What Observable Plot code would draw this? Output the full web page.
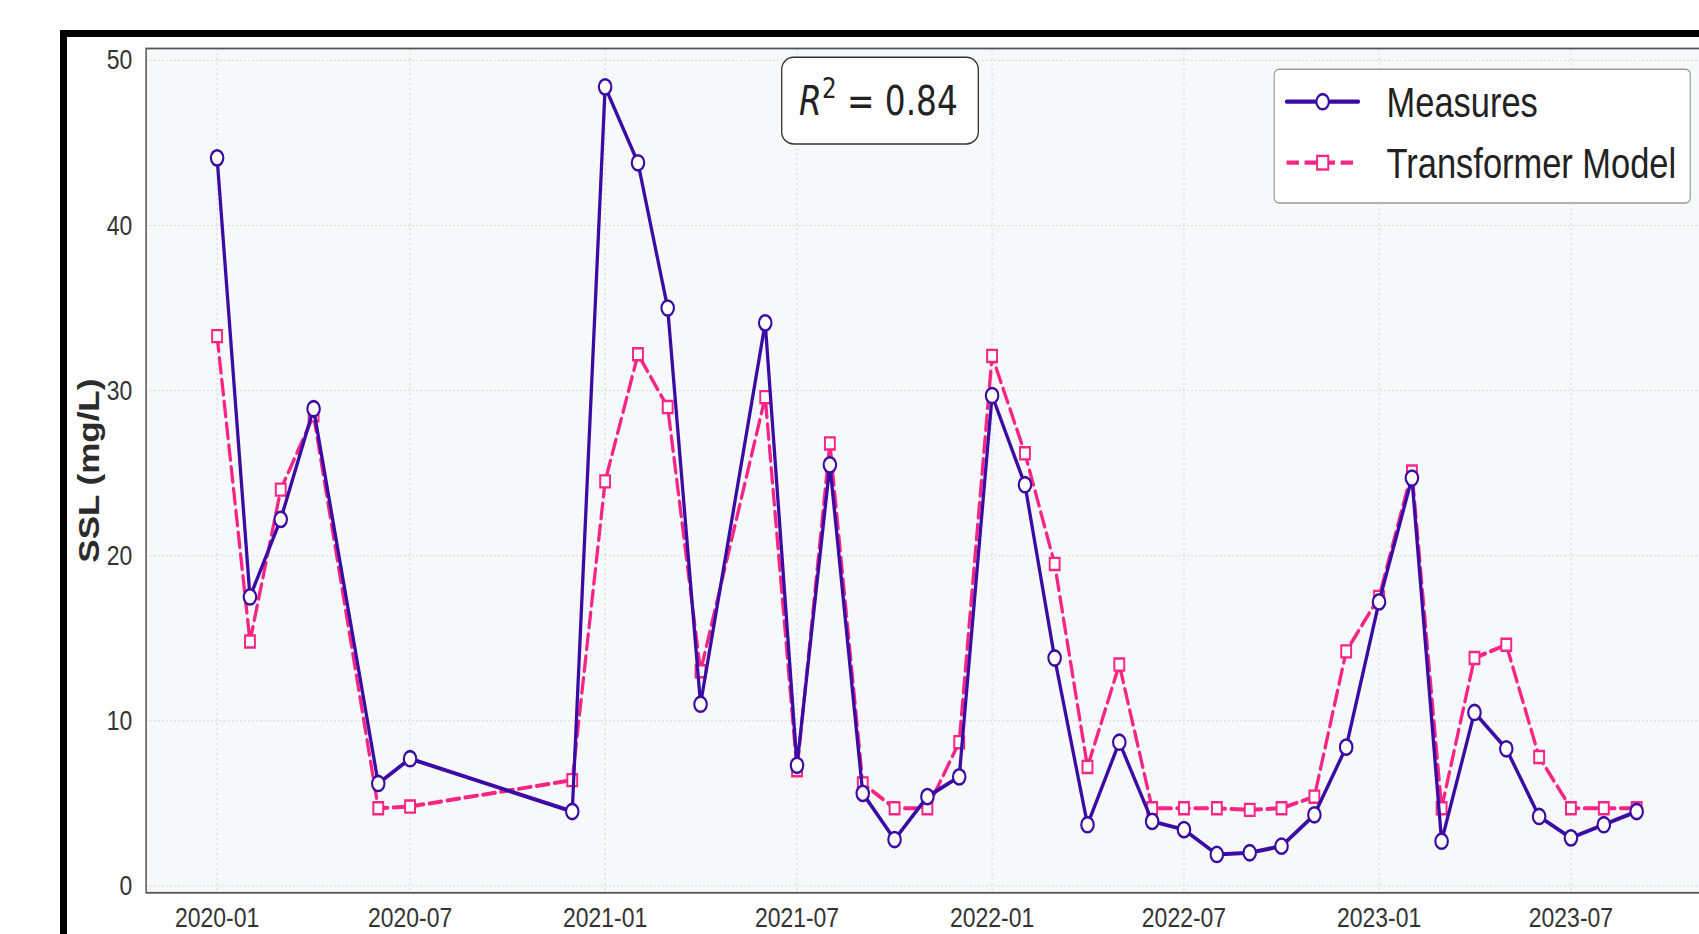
<!DOCTYPE html>
<html>
<head>
<meta charset="utf-8">
<script src="https://cdn.jsdelivr.net/npm/d3@7"></script>
<script src="https://cdn.jsdelivr.net/npm/@observablehq/plot@0.6"></script>
<style>
  html, body { margin: 0; padding: 0; background: #ffffff; overflow: hidden; width: 1699px; height: 934px; }
  #page { position: absolute; left: 0; top: 0; width: 1699px; height: 934px; overflow: hidden; background: #fff; }
  #border { position: absolute; left: 60px; top: 30px; width: 3000px; height: 3000px;
            border-left: 7.5px solid #000; border-top: 7.5px solid #000; box-sizing: border-box; }
  #chart { position: absolute; left: 0; top: 0; width: 2102px; height: 934px; transform-origin: 0 0; transform: scaleX(0.82); }
  #chart svg { max-width: none !important; width: 2102px !important; height: 934px !important; display: block; }
</style>
</head>
<body>
<div id="page">
  <div id="border"></div>
  <div id="chart"></div>
</div>
<script>
// ---- data ----
const months = [
  "2020-01","2020-02","2020-03","2020-04","2020-06","2020-07","2020-12",
  "2021-01","2021-02","2021-03","2021-04","2021-06","2021-07","2021-08","2021-09","2021-10","2021-11","2021-12",
  "2022-01","2022-02","2022-03","2022-04","2022-05","2022-06","2022-07","2022-08","2022-09","2022-10","2022-11","2022-12",
  "2023-01","2023-02","2023-03","2023-04","2023-05","2023-06","2023-07","2023-08","2023-09"
];
const measures = [
  44.1, 17.5, 22.2, 28.9, 6.2, 7.7, 4.5,
  48.4, 43.8, 35.0, 11.0, 34.1, 7.3, 25.5, 5.6, 2.8, 5.4, 6.6,
  29.7, 24.3, 13.8, 3.7, 8.7, 3.9, 3.4, 1.9, 2.0, 2.4, 4.3, 8.4,
  17.2, 24.7, 2.7, 10.5, 8.3, 4.2, 2.9, 3.7, 4.5
];
const transformer = [
  33.3, 14.8, 24.0, 28.5, 4.7, 4.8, 6.4,
  24.5, 32.2, 29.0, 13.0, 29.6, 7.0, 26.8, 6.2, 4.7, 4.7, 8.7,
  32.1, 26.2, 19.5, 7.2, 13.4, 4.7, 4.7, 4.7, 4.6, 4.7, 5.4, 14.2,
  17.5, 25.1, 4.7, 13.8, 14.6, 7.8, 4.7, 4.7, 4.7
];
const xTickLabels = ["2020-01","2020-07","2021-01","2021-07","2022-01","2022-07","2023-01","2023-07"];
const yTicks = [0, 10, 20, 30, 40, 50];
const seriesNames = ["Measures", "Transformer Model"];
const r2Text = "0.84";
const yLabel = "SSL (mg/L)";

const purple = "#3a0ca3";
const pink = "#f72585";

const parseMonth = d3.utcParse("%Y-%m");
const data = months.map((m, i) => ({date: parseMonth(m), measures: measures[i], transformer: transformer[i]}));
const xTicks = xTickLabels.map(parseMonth);

// matplotlib-like 5% margins
const t0 = data[0].date, t1 = data[data.length - 1].date;
const span = t1 - t0;
const xDomain = [new Date(+t0 - 0.05 * span), new Date(+t1 + 0.05 * span)];
const ymin = d3.min([...measures, ...transformer]), ymax = d3.max([...measures, ...transformer]);
const yDomain = [ymin - 0.05 * (ymax - ymin), ymax + 0.05 * (ymax - ymin)];

const W = 2102;
const chart = Plot.plot({
  width: W,
  height: 934,
  marginLeft: 177.7,
  marginRight: W - 2082,
  marginTop: 48,
  marginBottom: 41.7,
  style: {background: "transparent", fontFamily: "'Liberation Sans', Arial, sans-serif", fontSize: "28px", color: "#333", overflow: "visible"},
  x: {type: "utc", domain: xDomain, ticks: xTicks, tickFormat: d3.utcFormat("%Y-%m"), tickSize: 0, tickPadding: 14, label: null},
  y: {domain: yDomain, ticks: yTicks, tickSize: 0, tickPadding: 17, label: null},
  marks: [
    Plot.frame({fill: "#f7f8fa", stroke: null}),
    Plot.gridX(xTicks, {stroke: "#cfcfcf", strokeOpacity: 1, strokeWidth: 1, strokeDasharray: "2,3"}),
    Plot.gridY(yTicks, {stroke: "#cfcfcf", strokeOpacity: 1, strokeWidth: 1, strokeDasharray: "2,3"}),
    Plot.frame({stroke: "#555", strokeWidth: 1.8}),
    Plot.line(data, {x: "date", y: "transformer", stroke: pink, strokeWidth: 4, strokeDasharray: "15,7"}),
    Plot.dot(data, {x: "date", y: "transformer", symbol: "square", r: 6.8, fill: "white", stroke: pink, strokeWidth: 2.4}),
    Plot.line(data, {x: "date", y: "measures", stroke: purple, strokeWidth: 4}),
    Plot.dot(data, {x: "date", y: "measures", r: 7.6, fill: "white", stroke: purple, strokeWidth: 2.6}),
    Plot.text([yLabel], {frameAnchor: "left", dx: -69, rotate: -90, fontWeight: "bold", fontSize: 35, fill: "#2b2b2b", textAnchor: "middle", lineAnchor: "middle"})
  ]
});
document.getElementById("chart").appendChild(chart);

const svg = d3.select(chart);

// R^2 box
const r2 = svg.append("g");
r2.append("rect").attr("x", 953.3).attr("y", 57.3).attr("width", 239.8).attr("height", 86.7)
  .attr("rx", 14.6).attr("ry", 12).attr("fill", "#fdfdfd").attr("stroke", "#333").attr("stroke-width", 1.6);
const r2t = r2.append("text").attr("x", 1071.3).attr("y", 115).attr("text-anchor", "middle")
  .attr("font-family", "'DejaVu Sans', sans-serif").attr("font-size", 40).attr("fill", "#222");
r2t.append("tspan").attr("font-style", "italic").text("R");
r2t.append("tspan").attr("font-size", 28).attr("dy", -17).text("2");
r2t.append("tspan").attr("dy", 17).text(" = " + r2Text);

// Legend
const lg = svg.append("g").attr("text-anchor", "start");
lg.append("rect").attr("x", 1553.9).attr("y", 69.3).attr("width", 507.4).attr("height", 133.7)
  .attr("rx", 6).attr("ry", 5).attr("fill", "#ffffff").attr("stroke", "#9a9a9a").attr("stroke-width", 1.4);
// Measures entry
lg.append("line").attr("x1", 1569).attr("x2", 1656.5).attr("y1", 101.7).attr("y2", 101.7)
  .attr("stroke", purple).attr("stroke-width", 4.2).attr("stroke-linecap", "round");
lg.append("circle").attr("cx", 1613).attr("cy", 101.7).attr("r", 7.6)
  .attr("fill", "white").attr("stroke", purple).attr("stroke-width", 2.6);
lg.append("text").attr("x", 1691).attr("y", 117.3).attr("text-anchor", "start").attr("font-family", "'Liberation Sans', Arial, sans-serif")
  .attr("font-size", 42).attr("fill", "#222").text(seriesNames[0]);
// Transformer entry
lg.append("line").attr("x1", 1569).attr("x2", 1656.5).attr("y1", 162.7).attr("y2", 162.7)
  .attr("stroke", pink).attr("stroke-width", 4.2).attr("stroke-dasharray", "15,7");
lg.append("rect").attr("x", 1613 - 6.8).attr("y", 162.7 - 6.8).attr("width", 13.6).attr("height", 13.6)
  .attr("fill", "white").attr("stroke", pink).attr("stroke-width", 2.4);
lg.append("text").attr("x", 1691).attr("y", 178.3).attr("text-anchor", "start").attr("font-family", "'Liberation Sans', Arial, sans-serif")
  .attr("font-size", 42).attr("fill", "#222").text(seriesNames[1]);
</script>
</body>
</html>
